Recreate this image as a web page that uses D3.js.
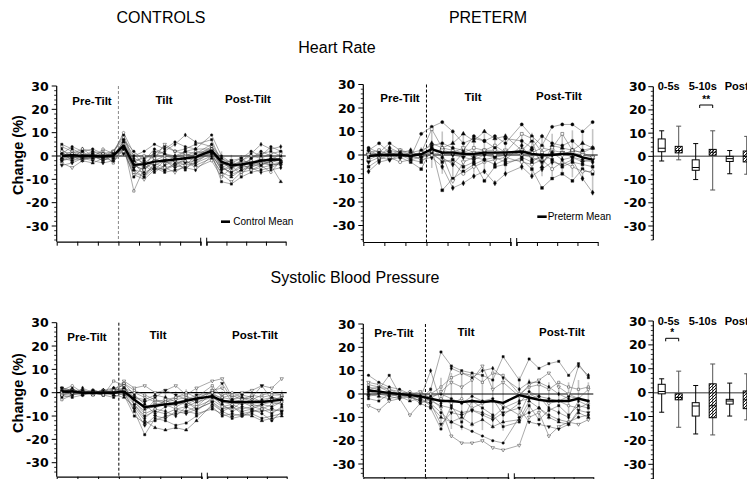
<!DOCTYPE html>
<html><head><meta charset="utf-8">
<script src="https://cdn.jsdelivr.net/npm/d3@7"></script>
<style>body{margin:0;background:#fff}svg{display:block}</style>
</head><body>
<svg id="c" width="747" height="479"></svg>
<script>
// ---------- DATA ----------
const preTimes  = [-27.5,-22.5,-17.5,-12.5,-7.5,-2.5];
const tiltTimes = [2.5,7.5,12.5,17.5,22.5,27.5,32.5,37.5];
const postTimes = [2.5,7.5,12.5,17.5,22.5,27.5,32.5,37.5];
const sectionLabels = ["Pre-Tilt","Tilt","Post-Tilt"];
const boxGroupLabels = ["0-5s","5-10s","Post"];
const yMajorTicks = [30,20,10,0,-10,-20,-30];

// Heart rate, controls (% change) – individual subjects (6 pre, 8 tilt, 8 post)
const hrControls = [
 [1,-2,0,1,-1,0, 6,-4,-6,-2,-3,0,-1,1, 3,-5,-7,-4,-3,-2,-1,-2],
 [5,3,1,-1,0,2, 9,-2,-1,1,4,2,3,5, 7,-3,-2,-5,-1,1,2,0],
 [-3,-5,-2,0,2,-1, 2,-8,-10,-6,-5,-7,-4,-3, 0,-8,-11,-7,-6,-5,-4,-3],
 [2,1,3,2,0,1, 4,-1,-3,0,2,5,9,6, 4,-1,-4,-2,1,5,3,4],
 [-1,0,-2,-3,-1,-2, 3,-6,-7,-5,-6,-3,-2,-4, -1,-7,-9,-6,-5,-3,-4,-11],
 [0,2,1,-1,3,1, 10,1,-4,-2,0,-1,1,-1, 2,-3,-5,-3,-2,-4,-2,-1],
 [4,2,-1,0,1,-3, 5,-15,-5,-3,-1,-2,0,2, 1,-6,-4,-8,-3,-1,1,2],
 [-4,-3,-1,-2,-3,-2, 1,-3,-8,-4,-2,-5,-3,-2, 2,-4,-2,-1,-4,-2,-3,-4],
 [1,4,2,3,1,2, 7,0,2,5,3,6,4,3, 9,0,-3,-1,2,0,4,2],
 [-2,0,-1,1,-2,0, 3,-9,-4,-7,-4,-2,-6,-1, 1,-11,-12,-9,-7,-6,-5,-3],
 [0,-1,1,0,-1,2, 8,-3,0,-1,5,2,1,0, 4,-2,-6,-2,0,-1,-2,1],
 [3,-1,0,2,1,-1, 4,-5,-2,-4,-6,-4,-5,-6, 0,-5,-3,-4,-5,-7,-6,-5],
 [-1,1,-1,-1,0,0, 6,-2,-5,2,1,0,2,3, 3,-4,-8,-6,-4,-3,-1,-2],
 [2,-2,3,0,-2,1, 2,-7,-9,-3,-5,-4,-2,-5, -2,-9,-5,-3,-6,-4,-7,-2],
 [0,1,-1,-1,1,0, 5,-4,-6,-1,-3,-2,-4,0, 3,-2,-4,-5,-2,-3,-3,-1],
 [-2,-1,0,1,-1,1, 3,-5,-3,-6,-2,-4,-1,-2, 1,-6,-5,-2,-3,-2,-4,-3],
 [1,0,2,-1,0,-1, 7,2,-2,3,1,-1,2,1, 5,-1,-3,-4,-1,2,0,-2],
 [-1,-2,-1,0,-2,0, 4,-6,-9,-5,-7,-6,-5,-3, 2,-5,-7,-5,-4,-4,-2,-3]
];
const hrControlsMean = [0,0.3,0,0,-0.2,0.2, 4.5,-3.8,-3.5,-2.4,-2,-1.5,-1,-0.5, 2.3,-2.5,-4,-3.6,-3,-2,-1.6,-1.5];
const hrControlsSD   = [2.5,2.5,2,2,2,2.5, 3.5,5,4.5,4.5,4.5,4.5,4.5,4.5, 4,4.5,4.5,4,4,4,4,4];

// Heart rate, preterm
const hrPreterm = [
 [2,5,1,0,-1,9, 12,14,10,5,7,6,8,5, 13,8,4,12,13,13,10,14],
 [-5,-2,0,-1,-3,-6, 3,-15,-10,-7,-4,-2,-1,-3, -2,-6,-14,-10,-8,-11,-6,-8],
 [0,1,-1,0,1,0, 1,0,-11,-3,-1,1,0,2, 0,-1,-3,1,0,2,1,-1],
 [-7,-3,-2,-1,0,-2, -1,-5,-14,-12,-9,-7,-12,-8, -5,-9,-6,-3,-4,-2,-10,-16],
 [1,0,2,1,0,1, 5,3,5,9,6,10,7,8, 2,6,-5,4,3,2,5,3],
 [-2,0,-1,-3,-2,-1, 0,-2,-3,-8,-5,-3,-2,-1, -3,-4,-2,-6,-3,-5,-7,-7],
 [1,2,0,1,-1,1, 11,3,2,1,3,2,4,1, 9,7,1,3,9,2,1,3],
 [-3,-1,-2,0,-1,-1, 2,1,0,-1,-2,0,-1,0, 1,2,-3,0,1,-1,-3,-2],
 [3,1,5,2,1,2, 4,5,3,2,8,6,3,7, 6,3,8,5,4,6,2,3],
 [-1,0,1,0,-2,-3, 1,-3,-2,-5,-3,-11,-5,-4, -1,-3,0,-2,-5,-3,-4,-5],
 [0,-1,0,2,0,1, 2,2,1,3,1,2,2,1, 2,1,3,2,1,1,0,-1],
 [2,0,3,1,2,-1, 3,-1,-4,1,-1,-2,-4,-2, 4,-2,-1,1,-2,-1,-2,-3]
];
const hrPretermMean = [-0.5,0,0,0,-0.3,0.3, 2.5,1,1,0.5,0.5,1,1,1, 1.5,0.5,0,0,0.5,0.5,-1,-2];
const hrPretermSD   = [3,3,2.5,2.5,2.5,3, 8,9,10,9,8,8,7,8, 8,9,9,9,9,10,10,13];

// Systolic BP, controls
const sbpControls = [
 [1,0,1,0,0,2, 3,-5,-10,-8,-9,-7,-6,-4, -2,-5,-8,-6,-7,-5,-6,-4],
 [-2,-1,0,0,-1,-2, 0,-8,-18,-11,-12,-14,-13,-10, -6,-10,-9,-10,-9,-11,-10,-9],
 [2,1,0,1,0,1, 5,2,3,0,1,3,-1,2, 5,6,-2,0,1,3,2,6],
 [0,2,-1,0,1,0, 1,-3,-7,-6,-5,-4,-3,-2, 0,-3,-4,-5,-3,-4,-2,-3],
 [-1,0,1,-1,0,-1, -2,-6,-12,-15,-16,-15,-16,-12, -5,-8,-10,-9,-10,-12,-11,-10],
 [1,3,0,0,1,0, 2,0,-2,-4,-3,-2,-1,-5, 1,-1,0,-2,-3,-1,0,-1],
 [-3,-1,0,0,-1,5, 3,-4,-8,-3,-5,-7,-8,-6, -3,-6,-7,-4,-5,-6,-8,-7],
 [0,1,1,0,0,1, 1,-2,-4,-2,1,-1,-3,-1, 0,4,-3,-1,-2,3,-3,-2],
 [2,0,0,1,0,0, 4,-1,-5,-9,-6,-5,-4,-7, -4,-7,-6,-8,-7,-9,-12,-8],
 [-1,-2,-1,0,-1,0, -1,-10,-13,-12,-10,-9,-8,-9, -7,-9,-11,-10,-8,-7,-9,-6],
 [1,1,0,0,0,1, 2,-3,-6,-5,-4,-3,-2,-3, 1,2,-4,-3,-2,-4,-3,-2],
 [0,-1,2,0,1,2, 0,-5,-11,-7,-8,-10,-6,-8, -2,-4,-5,-7,-6,-5,-4,-5],
 [1,0,-1,1,0,-1, 2,-2,-3,-1,-2,-4,-5,-3, -1,-2,-3,-2,-4,-3,-2,-3],
 [-1,0,0,-1,1,0, 1,-4,-9,-7,-3,-6,-4,-6, 0,-6,-5,-4,-6,-7,-5,-4],
 [0,1,0,0,-1,1, 4,1,-1,-3,-4,-2,0,-2, 3,-2,-1,-3,-1,-2,-1,-1],
 [2,1,0,0,1,0, 0,-7,-14,-10,-11,-8,-9,-7, -4,-8,-6,-9,-8,-8,-7,-8]
];
const sbpControlsMean = [0.5,0.5,0,0,0,0, 0.5,-3,-6.2,-5.6,-5,-4.5,-3.5,-2.5, -1.6,-3.5,-4,-4,-4,-4,-3.5,-3];
const sbpControlsSD   = [1.5,1.5,1,1,1,1.5, 2.5,4,5,5,5,5,5,5, 4,4,4,4,4,4,4,4];

// Systolic BP, preterm
const sbpPreterm = [
 [8,5,3,2,0,-2, -4,-8,-12,-14,-16,-18,-20,-21, -10,-8,-6,-9,-11,-12,-10,-9],
 [3,2,8,0,-1,-3, 2,18,12,10,9,8,6,16, 6,15,11,13,14,8,13,7],
 [-5,-7,-3,-2,-9,-4, -2,-6,-18,-21,-21,-20,-23,-24, -22,-10,-8,-18,-14,-12,-13,-11],
 [2,1,0,-1,0,-2, 10,-4,11,9,7,10,11,7, 2,5,5,3,0,-2,12,8],
 [0,-1,-2,-1,-3,-2, -5,-10,-12,-10,-13,-11,-14,-12, -11,-3,-6,-10,-12,-13,-8,-10],
 [4,3,2,0,1,-1, -3,-2,-4,-2,-6,-4,-3,-5, -9,0,-2,-4,-3,-5,-6,-4],
 [1,0,1,0,-2,-1, 0,3,7,9,8,5,9,8, 0,3,4,2,5,3,2,3],
 [-1,0,-1,-2,-1,-3, -4,-13,-8,-9,-7,-9,-11,-8, -6,-12,-13,-14,-15,-13,-7,-8],
 [2,3,1,0,0,-1, -1,0,-2,-4,-1,-3,-2,-9, -4,1,-1,-2,-3,-1,-2,-3],
 [-2,-3,0,-1,-1,-4, -6,-15,-5,-12,-3,-6,-9,-14, -12,-5,-11,-7,-5,-9,-5,-6],
 [5,4,2,1,0,1, -2,1,5,3,6,12,2,5, -1,4,6,9,3,0,-2,2],
 [1,2,-1,0,0,-1, -3,-5,-6,-8,-7,-8,-10,-6, -3,-2,-1,-6,-8,-10,-3,-5]
];
const sbpPretermMean = [1.5,1,0.5,0,-0.5,-1, -2,-3,-3,-3.5,-3,-3.5,-3,-3.8, -0.5,-1.5,-2.5,-3,-3,-3,-2,-3];
const sbpPretermSD   = [3,3,3,2,2,2.5, 5,10,12,12,11,12,12,12, 8,8,8,8,8,8,8,8];

// Box plots: [lowWhisker, q1, median, q3, highWhisker]; order C 0-5, P 0-5, C 5-10, P 5-10, C post, P post
const hrBoxes  = [[-2,2,3.5,7.5,11],[-1.5,1.5,2.5,4.3,13],[-10,-6,-4.8,-1.5,5.5],[-14.5,0.5,1.8,3,11],[-7.5,-2.2,-1,0,2.5],[-7.7,-2.4,0,2.3,8.6]];
const sbpBoxes = [[-8.2,-0.5,0.5,3.5,5.8],[-14.5,-3,-2,-0.5,9],[-17.3,-9.8,-5.6,-4.2,3],[-17.7,-10.5,-5.5,3.7,12],[-9.8,-4.8,-3.5,-2.8,4],[-11.4,-6.7,-3,0.7,7.9]];
const boxGroups = ["control","preterm","control","preterm","control","preterm"];

// ---------- DRAWING ----------
const svg = d3.select("#c");
const defs = svg.append("defs");
defs.append("pattern").attr("id","hatch").attr("patternUnits","userSpaceOnUse")
  .attr("width",3).attr("height",3)
  .append("path").attr("d","M-1,1 L1,-1 M0,3 L3,0 M2,4 L4,2").attr("stroke","#000").attr("stroke-width",0.9);

const tickFont = "'DejaVu Sans', sans-serif";
const sansFont = "'Liberation Sans', Arial, Helvetica, sans-serif";

function txt(x,y,s,opts={}){
  return svg.append("text").attr("x",x).attr("y",y).text(s)
    .attr("font-family",opts.family||sansFont).attr("font-size",opts.size||16)
    .attr("font-weight",opts.weight||"normal").attr("text-anchor",opts.anchor||"middle")
    .attr("fill","#000");
}

txt(161,23,"CONTROLS");
txt(488,23,"PRETERM");
txt(337,53,"Heart Rate");
txt(355,283,"Systolic Blood Pressure");

function yAxis(g, y, ax, bottomPx, labelEnd){
  g.append("line").attr("x1",ax).attr("x2",ax).attr("y1",y(30)).attr("y2",bottomPx).attr("stroke","#000").attr("stroke-width",1.2);
  const minor = d3.range(30,-37,-2).filter(v=>v%10!==0 && y(v)<=bottomPx);
  g.selectAll(null).data(minor).join("line").attr("x1",ax-2.5).attr("x2",ax).attr("y1",d=>y(d)).attr("y2",d=>y(d)).attr("stroke","#000").attr("stroke-width",0.8);
  g.selectAll(null).data(yMajorTicks).join("line").attr("x1",ax-5).attr("x2",ax).attr("y1",d=>y(d)).attr("y2",d=>y(d)).attr("stroke","#000").attr("stroke-width",1);
  g.selectAll(null).data(yMajorTicks).join("text").attr("x",labelEnd).attr("y",d=>y(d)+4.5)
    .attr("text-anchor","end").attr("font-family",tickFont).attr("font-weight","bold").attr("font-size",12.5).text(d=>d);
}

const symbolSet = [
  {t:d3.symbolCircle, fill:"#000", rot:0},
  {t:d3.symbolSquare, fill:"#000", rot:0},
  {t:d3.symbolTriangle, fill:"#fff", rot:180},
  {t:d3.symbolDiamond, fill:"#000", rot:0},
  {t:d3.symbolTriangle, fill:"#000", rot:0},
  {t:d3.symbolCircle, fill:"#fff", rot:0},
  {t:d3.symbolSquare, fill:"#fff", rot:0},
  {t:d3.symbolTriangle, fill:"#000", rot:180}
];

const linePanels = [
  {subjects:hrControls, mean:hrControlsMean, sd:hrControlsSD, ax:56.7, s1e:200.7, s2s:206.7, s2e:285.7, y30:86, ym30:226, xa:241.7,
   dash:"#888", labels:[[92,104.5],[164,104],[248,103]], legend:{x1:221,x2:230,tx:233.3,y:221.7,text:"Control Mean"}, ylab:155, symSize:5},
  {subjects:hrPreterm, mean:hrPretermMean, sd:hrPretermSD, ax:363.3, s1e:510.7, s2s:516.7, s2e:597.7, y30:84.5, ym30:225.5, xa:242,
   dash:"#000", labels:[[400,102],[473,101],[559,100]], legend:{x1:537.3,x2:546.7,tx:547.7,y:216.7,text:"Preterm Mean"}, ylab:null, symSize:8},
  {subjects:sbpControls, mean:sbpControlsMean, sd:sbpControlsSD, ax:56.7, s1e:201.7, s2s:207.3, s2e:286.7, y30:322.7, ym30:462.7, xa:476.7,
   dash:"#000", labels:[[87,340.7],[158,339],[255,339]], legend:null, ylab:393, symSize:5},
  {subjects:sbpPreterm, mean:sbpPretermMean, sd:sbpPretermSD, ax:363.3, s1e:508.3, s2s:514.3, s2e:593.3, y30:324, ym30:464, xa:477.3,
   dash:"#000", labels:[[394,337.3],[466,336.3],[562,336.3]], legend:null, ylab:null, symSize:5}
];

const allTimes = preTimes.map(t=>({seg:1,t})).concat(tiltTimes.map(t=>({seg:1,t})), postTimes.map(t=>({seg:2,t})));

linePanels.forEach(p=>{
  const g = svg.append("g");
  const y = d3.scaleLinear().domain([-30,30]).range([p.ym30,p.y30]);
  const x1 = d3.scaleLinear().domain([-30,40]).range([p.ax,p.s1e]);
  const x2 = d3.scaleLinear().domain([0,40]).range([p.s2s,p.s2e]);
  const xp = i => allTimes[i].seg===1 ? x1(allTimes[i].t) : x2(allTimes[i].t);

  // error bars (SD of mean)
  g.selectAll(null).data(p.mean).join("line")
    .attr("x1",(d,i)=>xp(i)).attr("x2",(d,i)=>xp(i))
    .attr("y1",(d,i)=>y(d-p.sd[i])).attr("y2",(d,i)=>y(d+p.sd[i]))
    .attr("stroke","#c4c4c4").attr("stroke-width",1.6);

  // zero line
  g.append("line").attr("x1",p.ax).attr("x2",p.s2e).attr("y1",y(0)).attr("y2",y(0)).attr("stroke","#000").attr("stroke-width",1.2);

  // tilt onset dashed line
  g.append("line").attr("x1",x1(0)).attr("x2",x1(0)).attr("y1",y(30)).attr("y2",p.xa)
    .attr("stroke",p.dash).attr("stroke-width",1).attr("stroke-dasharray","3,2");

  // subjects
  const line = d3.line().x((d,i)=>xp(i)).y(d=>y(d));
  p.subjects.forEach((s,k)=>{
    g.append("path").attr("d",line(s)).attr("fill","none").attr("stroke","#555").attr("stroke-width",0.5);
  });
  p.subjects.forEach((s,k)=>{
    const sym = symbolSet[k%symbolSet.length];
    const gen = d3.symbol().type(sym.t).size(p.symSize);
    g.selectAll(null).data(s).join("path").attr("d",gen)
      .attr("transform",(d,i)=>`translate(${xp(i)},${y(d)}) rotate(${sym.rot})`)
      .attr("fill",sym.fill).attr("stroke","#222").attr("stroke-width",0.45);
  });

  // mean
  g.append("path").attr("d",line(p.mean)).attr("fill","none").attr("stroke","#000").attr("stroke-width",2.4).attr("stroke-linejoin","round");

  // axes
  yAxis(g,y,p.ax,p.xa,p.ax-8);
  const ax1 = g.append("g").attr("transform",`translate(0,${p.xa})`)
    .call(d3.axisBottom(x1).tickValues(d3.range(-30,41,10)).tickFormat("").tickSize(4).tickSizeOuter(0));
  const ax2 = g.append("g").attr("transform",`translate(0,${p.xa})`)
    .call(d3.axisBottom(x2).tickValues(d3.range(0,41,10)).tickFormat("").tickSize(4).tickSizeOuter(0));
  [ax1,ax2].forEach(a=>{a.select(".domain").attr("stroke-width",1.2); a.selectAll(".tick line").attr("stroke-width",1);});
  g.append("line").attr("x1",p.s1e).attr("x2",p.s1e).attr("y1",p.xa-4).attr("y2",p.xa+4).attr("stroke","#000");
  g.append("line").attr("x1",p.s2s).attr("x2",p.s2s).attr("y1",p.xa-4).attr("y2",p.xa+4).attr("stroke","#000");

  // section labels
  sectionLabels.forEach((s,i)=>{
    g.append("text").attr("x",p.labels[i][0]).attr("y",p.labels[i][1]).text(s)
      .attr("text-anchor","middle").attr("font-family",sansFont).attr("font-weight","bold").attr("font-size",11.5);
  });

  // legend
  if(p.legend){
    g.append("line").attr("x1",p.legend.x1).attr("x2",p.legend.x2).attr("y1",p.legend.y).attr("y2",p.legend.y).attr("stroke","#000").attr("stroke-width",2.6);
    g.append("text").attr("x",p.legend.tx).attr("y",p.legend.y+3.5).text(p.legend.text)
      .attr("font-family",sansFont).attr("font-size",10);
  }
  if(p.ylab!==null){
    g.append("text").attr("transform",`translate(23,${p.ylab}) rotate(-90)`).text("Change (%)")
      .attr("text-anchor","middle").attr("font-family",sansFont).attr("font-weight","bold").attr("font-size",14.5);
  }
});

const boxPanels = [
  {boxes:hrBoxes, ax:653.3, y30:86.7, ym30:226, bottom:240, labY:90, sig:{i:2,j:3,text:"**",y:105}},
  {boxes:sbpBoxes, ax:653.3, y30:321, ym30:464.3, bottom:479, labY:325, sig:{i:0,j:1,text:"*",y:338.3}}
];
boxPanels.forEach(p=>{
  const g = svg.append("g");
  const y = d3.scaleLinear().domain([-30,30]).range([p.ym30,p.y30]);
  const bx = d3.scaleLinear().domain([0,5]).range([661.7,746.7]);
  g.append("line").attr("x1",p.ax).attr("x2",747).attr("y1",y(0)).attr("y2",y(0)).attr("stroke","#777").attr("stroke-width",1.5);
  yAxis(g,y,p.ax,p.bottom,p.ax-7);
  p.boxes.forEach((b,i)=>{
    const cx = bx(i), w = 7, pre = boxGroups[i]==="preterm";
    const wc = pre ? "#555" : "#000";
    g.append("line").attr("x1",cx).attr("x2",cx).attr("y1",y(b[0])).attr("y2",y(b[4])).attr("stroke",wc).attr("stroke-width",1);
    [b[0],b[4]].forEach(v=>g.append("line").attr("x1",cx-2.5).attr("x2",cx+2.5).attr("y1",y(v)).attr("y2",y(v)).attr("stroke",wc).attr("stroke-width",1));
    g.append("rect").attr("x",cx-w/2).attr("y",y(b[3])).attr("width",w).attr("height",y(b[1])-y(b[3]))
      .attr("fill",pre?"url(#hatch)":"#fff").attr("stroke","#000").attr("stroke-width",1);
    g.append("line").attr("x1",cx-w/2).attr("x2",cx+w/2).attr("y1",y(b[2])).attr("y2",y(b[2])).attr("stroke","#000").attr("stroke-width",1);
  });
  boxGroupLabels.forEach((s,k)=>{
    g.append("text").attr("x",(bx(2*k)+bx(2*k+1))/2 - 1.5).attr("y",p.labY).text(s)
      .attr("text-anchor","middle").attr("font-family",sansFont).attr("font-weight","bold").attr("font-size",11);
  });
  const s = p.sig, xa = bx(s.i)+4, xb = bx(s.j);
  g.append("path").attr("d",`M${xa},${s.y+3}V${s.y}H${xb}V${s.y+3}`).attr("fill","none").attr("stroke","#000").attr("stroke-width",1);
  g.append("text").attr("x",(xa+xb)/2).attr("y",s.y-2).text(s.text).attr("text-anchor","middle")
    .attr("font-family",sansFont).attr("font-weight","bold").attr("font-size",10);
});
</script>
</body></html>
